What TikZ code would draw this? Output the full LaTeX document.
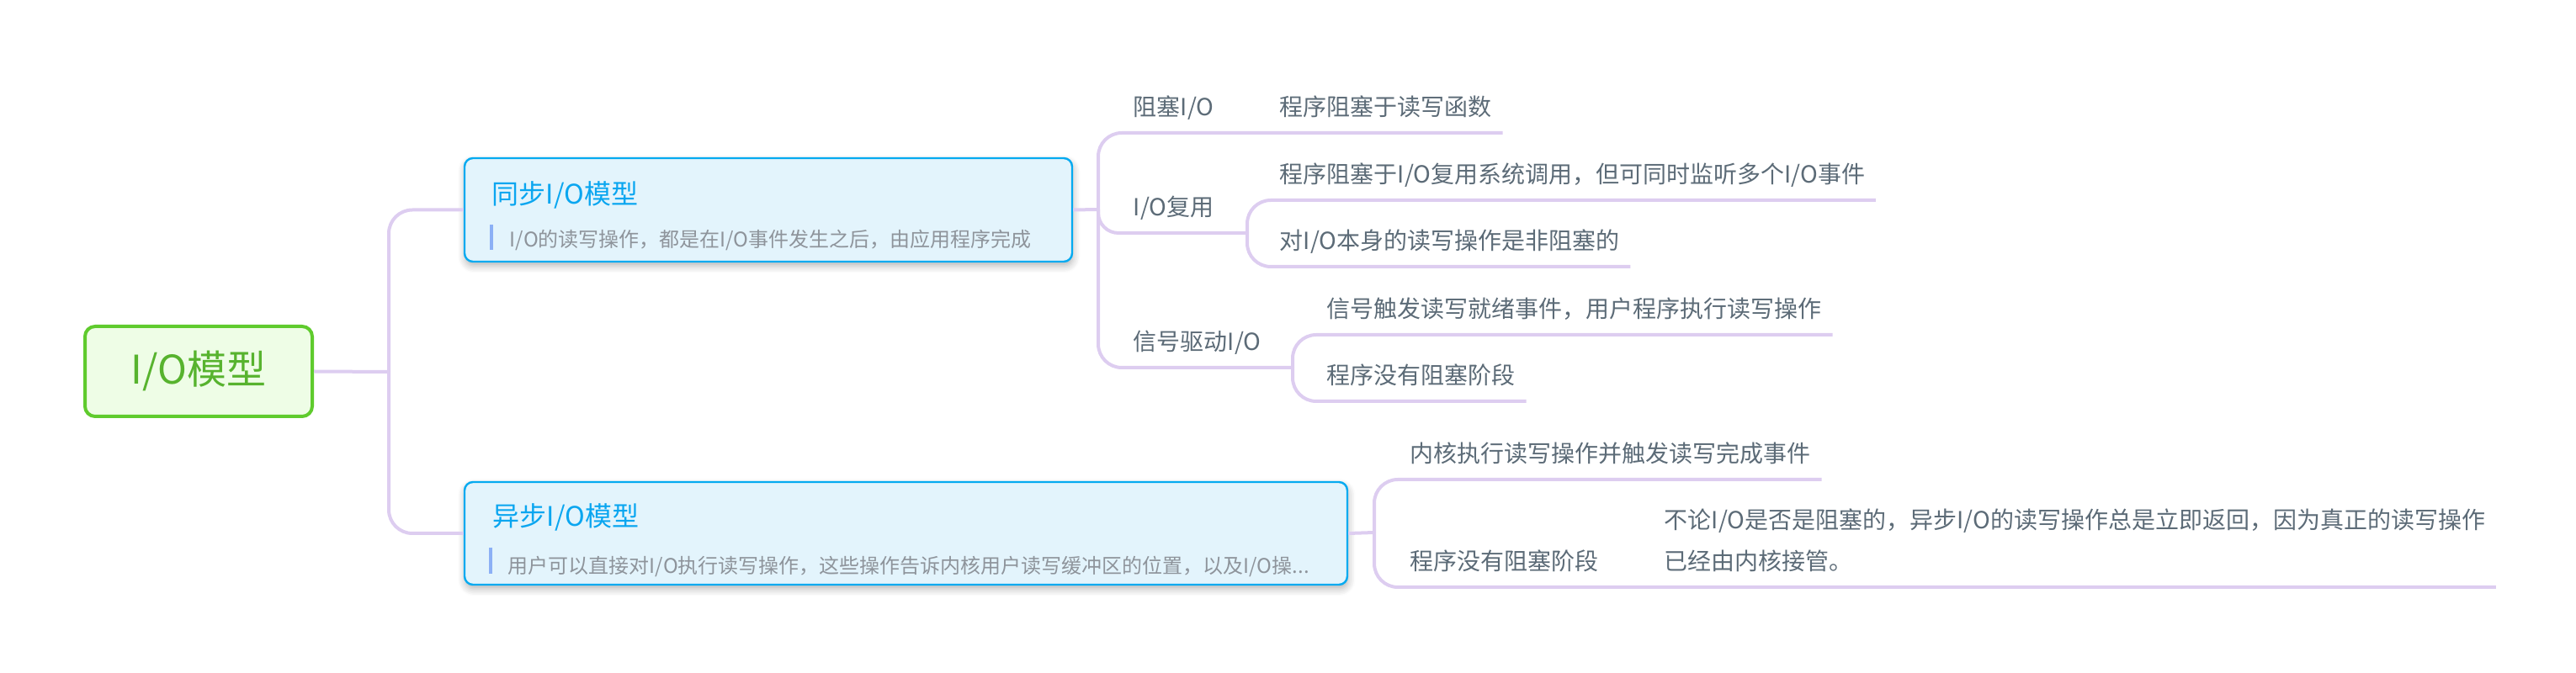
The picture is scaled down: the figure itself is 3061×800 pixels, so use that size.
\documentclass[tikz,border=0pt]{standalone}
\usepackage{fontspec}
\setmainfont{Noto Sans CJK SC}
\usetikzlibrary{shadows.blur}
\definecolor{linkc}{HTML}{DDCDF0}
\definecolor{rootedge}{HTML}{5FCB2D}
\definecolor{rootfill}{HTML}{EEFDE6}
\definecolor{roottext}{HTML}{57B32E}
\definecolor{topicedge}{HTML}{05AAF0}
\definecolor{topicfill}{HTML}{E3F4FC}
\definecolor{topictext}{HTML}{0AA6F0}
\definecolor{notetext}{HTML}{8E949B}
\definecolor{notebar}{HTML}{8CB0F5}
\definecolor{leaftext}{HTML}{5C6B77}
\begin{document}
\begin{tikzpicture}[x=0.25pt,y=-0.25pt,
  conn/.style={draw=linkc,line width=1pt,rounded corners=7pt},
  rootbox/.style={draw=rootedge,fill=rootfill,line width=1pt,rounded corners=3pt,
    minimum width=67.5pt,minimum height=26.75pt,inner sep=0pt,text=roottext,
    font=\fontsize{11.75}{14}\selectfont,text height=0.88em,text depth=0.12em},
  topicbox/.style={draw=topicedge,fill=topicfill,line width=0.6pt,rounded corners=2.5pt,inner sep=0pt,
    blur shadow={shadow xshift=0.2pt,shadow yshift=-1.2pt,shadow blur steps=6,shadow opacity=30}},
  title/.style={anchor=west,inner sep=0pt,text=topictext,font=\fontsize{8}{9.6}\selectfont,
    text height=0.88em,text depth=0.12em},
  note/.style={anchor=west,inner sep=0pt,text=notetext,font=\fontsize{6}{7.2}\selectfont,
    text height=0.88em,text depth=0.12em},
  bar/.style={draw=notebar,line width=0.9pt},
  leaf/.style={anchor=south west,inner xsep=3pt,inner ysep=0pt,text=leaftext,
    font=\fontsize{7}{12.25}\selectfont,text depth=4.84pt,align=left}
]
\useasboundingbox (0,0) rectangle (3061,800);

\node[rootbox] (root) at (236,441.5) {I/O模型};

\node[topicbox,minimum width=180.5pt,minimum height=30.75pt] (sync) at (913,249.5) {};
\node[title] (synct) at (584,227) {同步I/O模型};
\draw[bar] (584,267) -- (584,297);
\node[note] (syncn) at (605,278) {I/O的读写操作，都是在I/O事件发生之后，由应用程序完成};

\node[topicbox,minimum width=262.25pt,minimum height=30.5pt] (async) at (1076.5,634) {};
\node[title] (asynct) at (585,610) {异步I/O模型};
\draw[bar] (583,651) -- (583,682);
\node[note] (asyncn) at (603,666) {用户可以直接对I/O执行读写操作，这些操作告诉内核用户读写缓冲区的位置，以及I/O操...};

\coordinate (trunk) at (462,442);
\draw[conn] (root.east) -- (trunk);
\draw[conn] (trunk) |- (sync.west);
\draw[conn] (trunk) |- (async.west);

\node[leaf] (blk) at (1334,158) {阻塞I/O};
\node[leaf] (blkd) at (1508,158) {程序阻塞于读写函数};
\node[leaf] (mux) at (1334,277) {I/O复用};
\node[leaf] (mux1) at (1508,238) {程序阻塞于I/O复用系统调用，但可同时监听多个I/O事件};
\node[leaf] (mux2) at (1508,317) {对I/O本身的读写操作是非阻塞的};
\node[leaf] (sig) at (1334,437) {信号驱动I/O};
\node[leaf] (sig1) at (1564,398) {信号触发读写就绪事件，用户程序执行读写操作};
\node[leaf] (sig2) at (1564,477) {程序没有阻塞阶段};

\coordinate (hubA) at (1305,249);
\coordinate (hubB) at (1482,277);
\coordinate (hubC) at (1536,437);
\draw[conn] (sync.east) -- (hubA);
\draw[conn] (hubA) |- (blkd.south east);
\draw[conn,rounded corners=6pt] (hubA) |- (hubB);
\draw[conn] (hubA) |- (hubC);
\draw[conn] (hubB) |- (mux1.south east);
\draw[conn] (hubB) |- (mux2.south east);
\draw[conn] (hubC) |- (sig1.south east);
\draw[conn] (hubC) |- (sig2.south east);

\node[leaf] (kern) at (1663,570) {内核执行读写操作并触发读写完成事件};
\node[leaf] (nob) at (1663,698) {程序没有阻塞阶段};
\node[leaf] (nobd) at (1965,698) {不论I/O是否是阻塞的，异步I/O的读写操作总是立即返回，因为真正的读写操作\\已经由内核接管。};

\coordinate (hubD) at (1633,633);
\draw[conn] (async.east) -- (hubD);
\draw[conn] (hubD) |- (kern.south east);
\draw[conn] (hubD) |- (nobd.south east);
\end{tikzpicture}
\end{document}
